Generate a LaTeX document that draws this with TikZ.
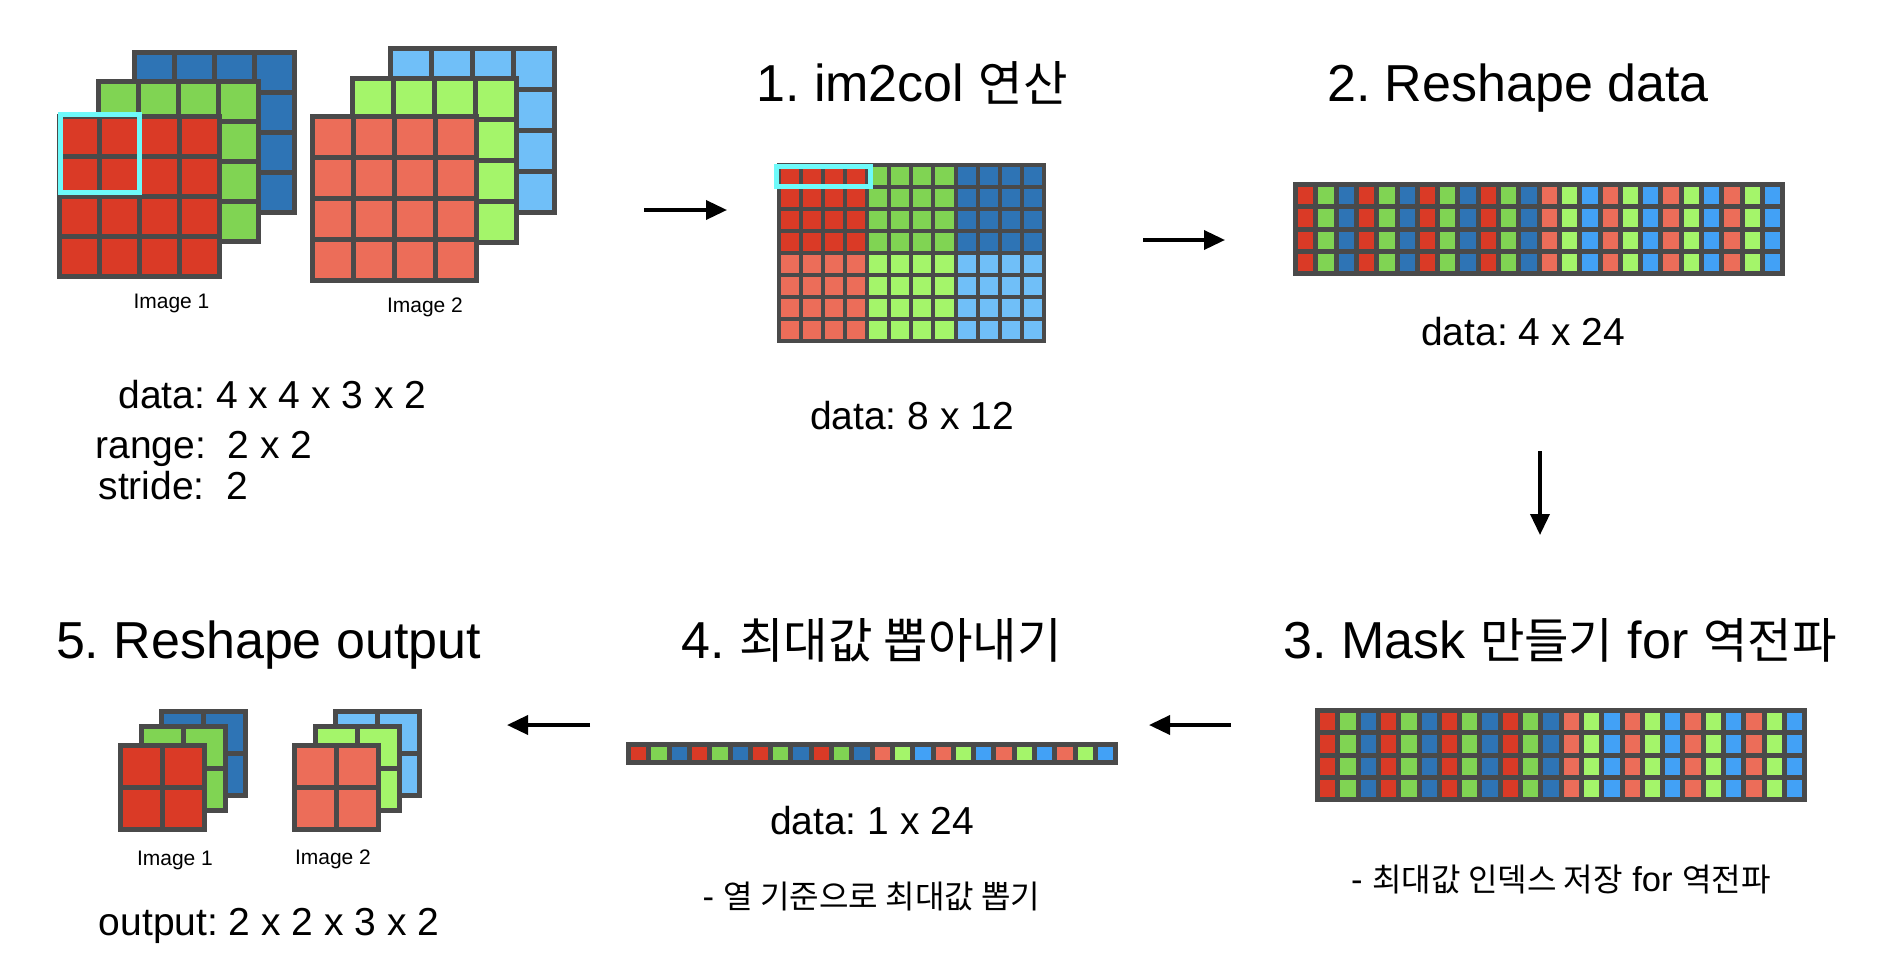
\documentclass[tikz,border=0pt]{standalone}
\usepackage{fontspec}
\setmainfont{Liberation Sans}
\newfontfamily\kr{Noto Sans CJK KR}[Scale=0.93]
\usetikzlibrary{arrows.meta,positioning}
\frenchspacing

\definecolor{Ared}{HTML}{DA3A26}
\definecolor{Agreen}{HTML}{80D453}
\definecolor{Ablue}{HTML}{2E74B5}
\definecolor{Bred}{HTML}{EC6D59}
\definecolor{Bgreen}{HTML}{A4F56A}
\definecolor{Bblue}{HTML}{70BFF8}
\definecolor{Bsky}{HTML}{42A1F6}
\definecolor{edge}{HTML}{4A4A4A}
\definecolor{pickc}{HTML}{6EFAFA}

\newcommand{\chanlist}{Ared,Agreen,Ablue,Ared,Agreen,Ablue,Ared,Agreen,Ablue,Ared,Agreen,Ablue,Bred,Bgreen,Bsky,Bred,Bgreen,Bsky,Bred,Bgreen,Bsky,Bred,Bgreen,Bsky}

% x, y, cols, rows, w, h, colour
\newcommand{\cellgrid}[7]{%
  \foreach \ci in {1,...,#3}
    \foreach \cj in {1,...,#4}
      \draw[cell,fill=#7] ({#1+(\ci-1)*#5},{#2+(\cj-1)*#6}) rectangle ++(#5,#6);
}
% x, y, rows, w, h
\newcommand{\chanrow}[5]{%
  \foreach \chan [count=\ci from 0] in \chanlist
    \foreach \cj in {1,...,#3}
      \draw[cell,fill=\chan] ({#1+\ci*#4},{#2+(\cj-1)*#5}) rectangle ++(#4,#5);
}

\begin{document}
\begin{tikzpicture}[x=0.5pt,y=-0.5pt,line width=2.5pt,
  cell/.style={draw=edge},
  pick/.style={draw=pickc,line width=2.5pt},
  flow/.style={-{Triangle[length=10.5pt,width=9.5pt]},line width=1.8pt},
  title/.style={inner sep=0pt,font=\fontsize{26}{30}\selectfont},
  body/.style={inner sep=0pt,font=\fontsize{19.5}{23}\selectfont},
  note/.style={inner sep=0pt,font=\fontsize{17.25}{20}\selectfont},
  tag/.style={inner sep=0pt,font=\fontsize{10.5}{12}\selectfont}]

\useasboundingbox (0,0) rectangle (1880,970);

\cellgrid{134.5}{52}{4}{4}{40}{40}{Ablue}
\cellgrid{98}{81}{4}{4}{40}{40}{Agreen}
\cellgrid{59.5}{116}{4}{4}{40}{40}{Ared}
\draw[pick] (60,114) rectangle (139.5,192);

\cellgrid{390}{48}{4}{4}{41}{41}{Bblue}
\cellgrid{352}{78}{4}{4}{41}{41}{Bgreen}
\cellgrid{312}{116}{4}{4}{41}{41}{Bred}

\node[tag] (img1) at (171.5,303) {Image 1};
\node[tag] (img2) at (425,307) {Image 2};
\node[body,anchor=base west] (shape) at (116,408) {data: 4 x 4 x 3 x 2};
\node[body,anchor=base west] (range) at (93,458) {range:\ \ 2 x 2};
\node[body,anchor=base west] (stride) at (96,499) {stride:\ \ 2};

\node[title,anchor=base] (t1) at (912,101) {1. im2col {\kr 연산}};
\begin{scope}[line width=2pt]
\cellgrid{778.7}{165}{4}{4}{22.1}{22}{Ared}
\cellgrid{867.1}{165}{4}{4}{22.1}{22}{Agreen}
\cellgrid{955.5}{165}{4}{4}{22.1}{22}{Ablue}
\cellgrid{778.7}{253}{4}{4}{22.1}{22}{Bred}
\cellgrid{867.1}{253}{4}{4}{22.1}{22}{Bgreen}
\cellgrid{955.5}{253}{4}{4}{22.1}{22}{Bblue}
\end{scope}
\draw[pick] (776.5,166.5) rectangle (870.5,186.5);
\node[body,anchor=base] (d2) at (912,429) {data: 8 x 12};

\node[title,anchor=base] (t2) at (1518,101) {2. Reshape data};
\chanrow{1295.5}{184.5}{4}{20.3}{22.25}
\node[body,anchor=base] (d3) at (1523,345) {data: 4 x 24};

\node[title,anchor=base] (t3) at (1560,658) {3. Mask {\kr 만들기} for {\kr 역전파}};
\chanrow{1317.5}{710.5}{4}{20.3}{22.25}
\node[note] (n3) at (1561,879) {- {\kr 최대값 인덱스 저장} for {\kr 역전파}};

\node[title,anchor=base] (t4) at (871.5,658) {4. {\kr 최대값 뽑아내기}};
\chanrow{628.5}{744.5}{1}{20.3}{18}
\node[body,anchor=base] (d4) at (872,834) {data: 1 x 24};
\node[note] (n4) at (871.5,896) {- {\kr 열 기준으로 최대값 뽑기}};

\node[title,anchor=base] (t5) at (268.5,658) {5. Reshape output};
\cellgrid{161}{711}{2}{2}{42}{42}{Ablue}
\cellgrid{141}{726}{2}{2}{42}{42}{Agreen}
\cellgrid{120}{745}{2}{2}{42}{42}{Ared}
\cellgrid{335}{711}{2}{2}{42}{42}{Bblue}
\cellgrid{315}{726}{2}{2}{42}{42}{Bgreen}
\cellgrid{294}{745}{2}{2}{42}{42}{Bred}
\node[tag] (out1) at (175,860) {Image 1};
\node[tag] (out2) at (333,859) {Image 2};
\node[body,anchor=base] (d5) at (269,935) {output: 2 x 2 x 3 x 2};

\coordinate (a1s) at (644,210);
\coordinate (a1e) at (727,210);
\coordinate (a2s) at (1143,240);
\coordinate (a2e) at (1225,240);
\coordinate (a3s) at (1540,451);
\coordinate (a3e) at (1540,535);
\coordinate (a4s) at (1231,725);
\coordinate (a4e) at (1149,725);
\coordinate (a5s) at (590,725);
\coordinate (a5e) at (507,725);
\draw[flow] (a1s) -- (a1e);
\draw[flow] (a2s) -- (a2e);
\draw[flow] (a3s) -- (a3e);
\draw[flow] (a4s) -- (a4e);
\draw[flow] (a5s) -- (a5e);
\end{tikzpicture}
\end{document}
